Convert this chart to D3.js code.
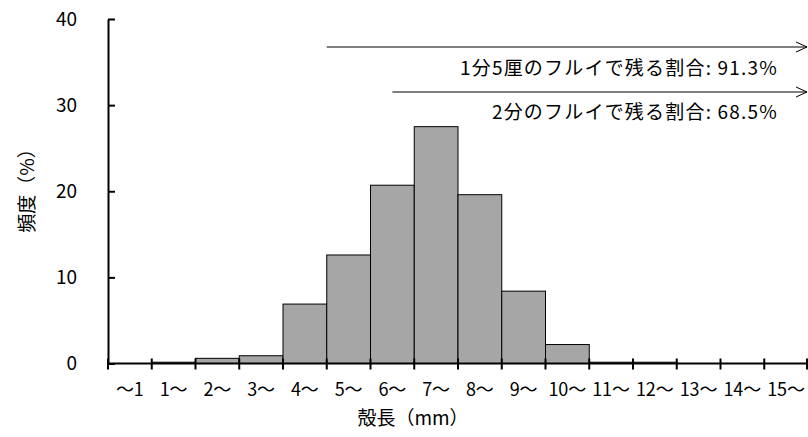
<!DOCTYPE html>
<html>
<head>
<meta charset="utf-8" />
<title>殻長の頻度分布</title>
<style>
body {
	margin: 0;
	padding: 0;
	background-color: #fff;
}
svg {
	display: block;
	font-family: "Noto Sans CJK JP", sans-serif;
}
text {
	fill: #000;
}
.bar {
	fill: #a6a6a6;
	stroke: #000;
	stroke-width: 1;
}
.axis path, .axis line {
	stroke: #000;
	stroke-width: 2;
}
</style>
</head>
<body>
<svg></svg>
<script src="https://cdn.jsdelivr.net/npm/d3@7"></script>
<script>

/***********
Data
************/
var categories = ["～1","1～","2～","3～","4～","5～","6～","7～","8～","9～","10～","11～","12～","13～","14～","15～"];
var freq = [0, 0.15, 0.6, 0.9, 6.9, 12.6, 20.7, 27.5, 19.6, 8.4, 2.2, 0.15, 0.15, 0, 0, 0]; // 頻度 (%)
var yTicks = [0, 10, 20, 30, 40];

// sieves : where the arrow starts (mm) and its label
var sieveStart = [5, 6.5];
var sieveLabel = ["1分5厘のフルイで残る割合: 91.3%", "2分のフルイで残る割合: 68.5%"];

/***********
Layout
************/
var w = 808, h = 437;
var plotLeft = 108, plotRight = 808, plotTop = 19, plotBottom = 363.5; // NB: "top" is taken by window.top

var svg = d3.select("svg")
	.attr("width", w)
	.attr("height", h);

var x = d3.scaleBand()
	.domain(categories)
	.range([plotLeft, plotRight])
	.padding(0);

// same axis but in mm, for the arrows and the tick marks
var xmm = d3.scaleLinear()
	.domain([0, categories.length])
	.range([plotLeft, plotRight]);

var y = d3.scaleLinear()
	.domain([0, 40])
	.range([plotBottom, plotTop]);

/* bars */
svg.append("g")
	.selectAll("rect")
	.data(freq)
	.enter()
	.append("rect")
		.attr("class", "bar")
		.attr("x", function(d, i) { return x(categories[i]); })
		.attr("width", x.bandwidth())
		.attr("y", function(d) { return y(d); })
		.attr("height", function(d) { return y(0) - y(d); })
		.style("display", function(d) { return d > 0 ? null : "none"; });

/* y axis : ticks inside */
var yAxis = svg.append("g")
	.attr("class", "axis")
	.attr("transform", "translate(" + plotLeft + ",0)")
	.call(d3.axisLeft(y).tickValues(yTicks).tickSizeInner(-7).tickSizeOuter(0).tickPadding(31));
yAxis.selectAll("text")
	.style("font-size", "19px")
	.style("font-family", "'Noto Sans CJK JP', sans-serif");

/* x axis : line + crossing ticks at bin edges + labels in the middle */
var xAxis = svg.append("g").attr("class", "axis");
xAxis.append("line")
	.attr("x1", plotLeft).attr("x2", plotRight)
	.attr("y1", y(0)).attr("y2", y(0));
xAxis.selectAll(".edge")
	.data(d3.range(categories.length + 1))
	.enter()
	.append("line")
		.attr("class", "edge")
		.attr("x1", function(d) { return Math.min(xmm(d), w - 1); })
		.attr("x2", function(d) { return Math.min(xmm(d), w - 1); })
		.attr("y1", y(0) - 5)
		.attr("y2", y(0) + 6);
xAxis.selectAll(".lbl")
	.data(categories)
	.enter()
	.append("text")
		.attr("class", "lbl")
		.attr("x", function(d) { return x(d) + x.bandwidth() / 2; })
		.attr("y", 388)
		.attr("text-anchor", "middle")
		.attr("dominant-baseline", "central")
		.style("font-size", "18px")
		.text(function(d) { return d; });

/* axis titles */
svg.append("text")
	.attr("x", 413)
	.attr("y", 416)
	.attr("text-anchor", "middle")
	.attr("dominant-baseline", "central")
	.style("font-size", "19px")
	.text("殻長（mm）");

svg.append("text")
	.attr("transform", "translate(25,186) rotate(-90)")
	.attr("text-anchor", "middle")
	.attr("dominant-baseline", "central")
	.style("font-size", "19px")
	.text("頻度（%）");

/* sieve arrows + labels */
var arrowY = [47, 92];
var labelY = [66, 110];
var arrows = svg.selectAll(".sieve")
	.data(sieveStart)
	.enter()
	.append("g")
	.attr("class", "sieve");
arrows.append("line")
	.attr("x1", function(d) { return xmm(d); })
	.attr("x2", w - 1)
	.attr("y1", function(d, i) { return arrowY[i]; })
	.attr("y2", function(d, i) { return arrowY[i]; })
	.style("stroke", "#000")
	.style("stroke-width", 1);
arrows.append("path")
	.attr("d", function(d, i) {
		var ay = arrowY[i];
		return "M" + (w - 12) + "," + (ay - 5) + " L" + (w - 1) + "," + ay + " L" + (w - 12) + "," + (ay + 5);
	})
	.style("fill", "none")
	.style("stroke", "#000")
	.style("stroke-width", 1);
arrows.append("text")
	.attr("x", 778)
	.attr("y", function(d, i) { return labelY[i]; })
	.attr("text-anchor", "end")
	.attr("dominant-baseline", "central")
	.style("font-size", "19px")
	.style("letter-spacing", "1.2px")
	.text(function(d, i) { return sieveLabel[i]; });

</script>
</body>
</html>
